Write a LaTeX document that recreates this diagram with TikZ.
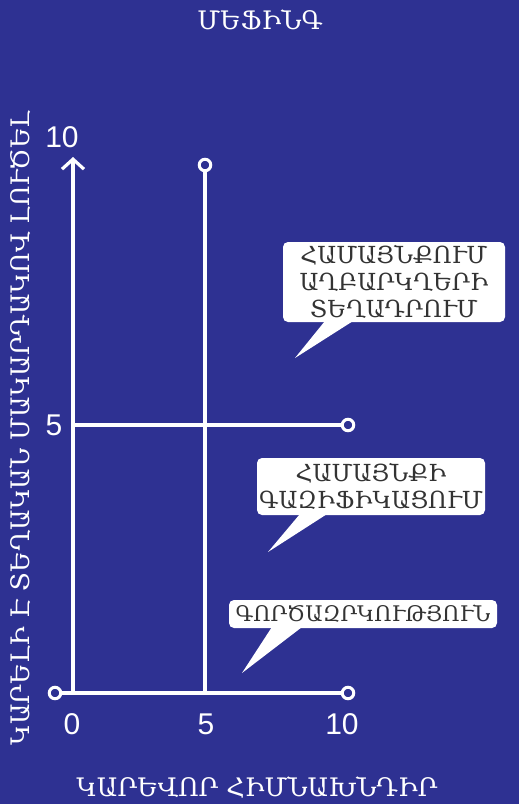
\documentclass[tikz,border=0pt]{standalone}
\usepackage{fontspec}
\setmainfont{DejaVu Serif}
\newfontfamily\numfont{Liberation Sans}
\usetikzlibrary{arrows.meta, calc, positioning}
\definecolor{bgblue}{HTML}{2E3192}
\definecolor{inkgray}{HTML}{333333}

\begin{document}
\begin{tikzpicture}[x=1pt, y=-1pt,
    axis/.style={white, line width=3.2pt},
    ring/.style={circle, draw=white, fill=bgblue, line width=3pt, inner sep=0pt, minimum size=11.5pt},
    num/.style={white, font=\numfont\fontsize{30}{32}\selectfont},
    captxt/.style={white, font=\fontsize{25.5}{28}\selectfont},
    bubble/.style={fill=white, rounded corners=5pt, text=inkgray, align=center,
                   inner sep=0pt, font=\fontsize{23.5}{27}\selectfont},
    tail/.style={fill=white},
]
% background (fixes the page size)
\fill[bgblue] (0,0) rectangle (519,804);

% --- axis positions (pixels, y down) ---
\def\xo{73}     % x of the vertical axis
\def\xm{205}    % x of the "5" line
\def\xr{348}    % right end
\def\yo{693}    % y of the horizontal axis
\def\ym{425}    % y of the "5" line

% titles
\node[captxt] (title) at (260,20) {ՄԵՖԻՆԳ};
\node[captxt] (xcap) at (257,787) {ԿԱՐԵՎՈՐ ՀԻՄՆԱԽՆԴԻՐ};
\node[captxt, rotate=90] (ycap) at (20,428) {ԿԱՐԵԼԻ Է ՏԵՂԱԿԱՆ ՄԱԿԱՐԴԱԿՈՎ ԼՈՒԾԵԼ};

% end rings
\node[ring] (r0) at (55,\yo) {};
\node[ring] (rx) at (\xr,\yo) {};
\node[ring] (rh) at (\xr,\ym) {};
\node[ring] (rv) at (\xm,165) {};
\coordinate (org) at (\xo,\yo);
\coordinate (ytop) at (\xo,157);
\coordinate (m0) at (\xm,\yo);
\coordinate (h0) at (\xo,\ym);

% axes and grid lines
\draw[axis] (r0) -- (rx);
\draw[axis, -{Straight Barb[length=10pt, width=22pt]}] (org) -- (ytop);
\draw[axis] (m0) -- (rv);
\draw[axis] (h0) -- (rh);

% scale numbers
\node[num] (n10y) at (62,137) {10};
\node[num] (n5y) at (54,425) {5};
\node[num] (n0x) at (72,724) {0};
\node[num] (n5x) at (206,724) {5};
\node[num] (n10x) at (342,724) {10};

% callouts
\node[bubble, minimum width=222pt, minimum height=80pt] (b1) at (394,282)
      {ՀԱՄԱՅՆՔՈՒՄ\\ԱՂԲԱՐԿՂԵՐԻ\\ՏԵՂԱԴՐՈՒՄ};
\coordinate (t1) at (295,358);
\fill[tail] ($(b1.south west)+(42,-1)$) -- ($(b1.south west)+(70,-1)$) -- (t1) -- cycle;

\node[bubble, minimum width=228pt, minimum height=57pt] (b2) at (371,486.5)
      {ՀԱՄԱՅՆՔԻ\\ԳԱԶԻՖԻԿԱՑՈՒՄ};
\coordinate (t2) at (268,552);
\fill[tail] ($(b2.south west)+(43,-1)$) -- ($(b2.south west)+(70,-1)$) -- (t2) -- cycle;

\node[bubble, minimum width=268pt, minimum height=28pt, font=\fontsize{21.5}{24}\selectfont] (b3) at (363,614)
      {ԳՈՐԾԱԶՐԿՈՒԹՅՈՒՆ};
\coordinate (t3) at (242,673);
\fill[tail] ($(b3.south west)+(43,-1)$) -- ($(b3.south west)+(73,-1)$) -- (t3) -- cycle;
\end{tikzpicture}
\end{document}
